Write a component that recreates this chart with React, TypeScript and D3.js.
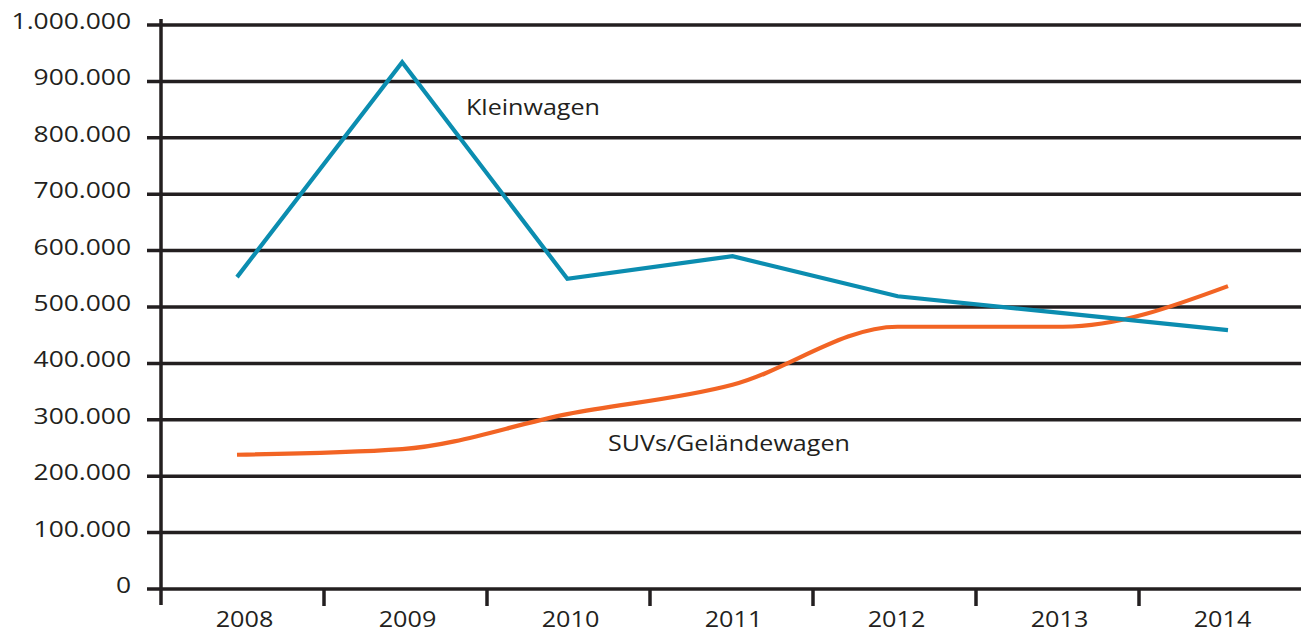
import React from "react";
import * as d3 from "d3";

const years = ["2008", "2009", "2010", "2011", "2012", "2013", "2014"];
const kleinwagen = [553000, 934000, 550000, 590000, 519000, 489000, 459000];
const suvs = [238000, 248000, 310000, 362000, 465000, 465000, 537000];
const yTicks = [0, 100000, 200000, 300000, 400000, 500000, 600000, 700000, 800000, 900000, 1000000];
const seriesLabels = ["Kleinwagen", "SUVs/Geländewagen"];

const W = 1301;
const H = 633;
const INK = "#231f20";
const BLUE = "#0b8db0";
const ORANGE = "#f26424";
const FONT = "'Open Sans', sans-serif";
const SX = 1.2;

const fmt = (v: number) => d3.format(",")(v).replace(/,/g, ".");

export default function App() {
  const y = d3.scaleLinear().domain([0, 1000000]).range([589, 25]);
  const xBand = d3.scaleBand().domain(years).range([161, 161 + 163 * 7]);
  const xPt = d3.scalePoint().domain(years).range([237, 1228]);

  const lineK = d3
    .line<number>()
    .x((_, i) => xPt(years[i]) as number)
    .y((d) => y(d));
  const lineS = d3
    .line<number>()
    .x((_, i) => xPt(years[i]) as number)
    .y((d) => y(d))
    .curve(d3.curveMonotoneX);

  const tickBounds = years.slice(1).map((yr) => xBand(yr) as number);

  return (
    <svg
      width={W}
      height={H}
      style={{ position: "absolute", left: 0, top: 0, background: "#fff" }}
    >
      {yTicks.map((t) => (
        <g key={t}>
          <line x1={147} x2={W} y1={y(t)} y2={y(t)} stroke={INK} strokeWidth={3.5} />
          <text
            transform={`translate(131,${y(t) + 4}) scale(${SX},1)`}
            textAnchor="end"
            fontFamily={FONT}
            fontSize={22}
            fill={INK}
          >
            {fmt(t)}
          </text>
        </g>
      ))}
      <line x1={161} x2={161} y1={19} y2={605} stroke={INK} strokeWidth={3.5} />
      {tickBounds.map((x) => (
        <line key={x} x1={x} x2={x} y1={589} y2={606} stroke={INK} strokeWidth={3.5} />
      ))}
      {years.map((yr) => (
        <text
          key={yr}
          transform={`translate(${(xBand(yr) as number) + xBand.bandwidth() / 2 + 2},627) scale(${SX},1)`}
          textAnchor="middle"
          fontFamily={FONT}
          fontSize={21}
          fill={INK}
        >
          {yr}
        </text>
      ))}
      <path d={lineS(suvs) || ""} fill="none" stroke={ORANGE} strokeWidth={4.2} />
      <path d={lineK(kleinwagen) || ""} fill="none" stroke={BLUE} strokeWidth={4.2} strokeLinejoin="miter" />
      <text
        transform={`translate(466,115) scale(1.14,1)`}
        fontFamily={FONT}
        fontSize={22}
        fill={INK}
      >
        {seriesLabels[0]}
      </text>
      <text
        transform={`translate(608,451) scale(1.14,1)`}
        fontFamily={FONT}
        fontSize={22}
        fill={INK}
      >
        {seriesLabels[1]}
      </text>
    </svg>
  );
}
